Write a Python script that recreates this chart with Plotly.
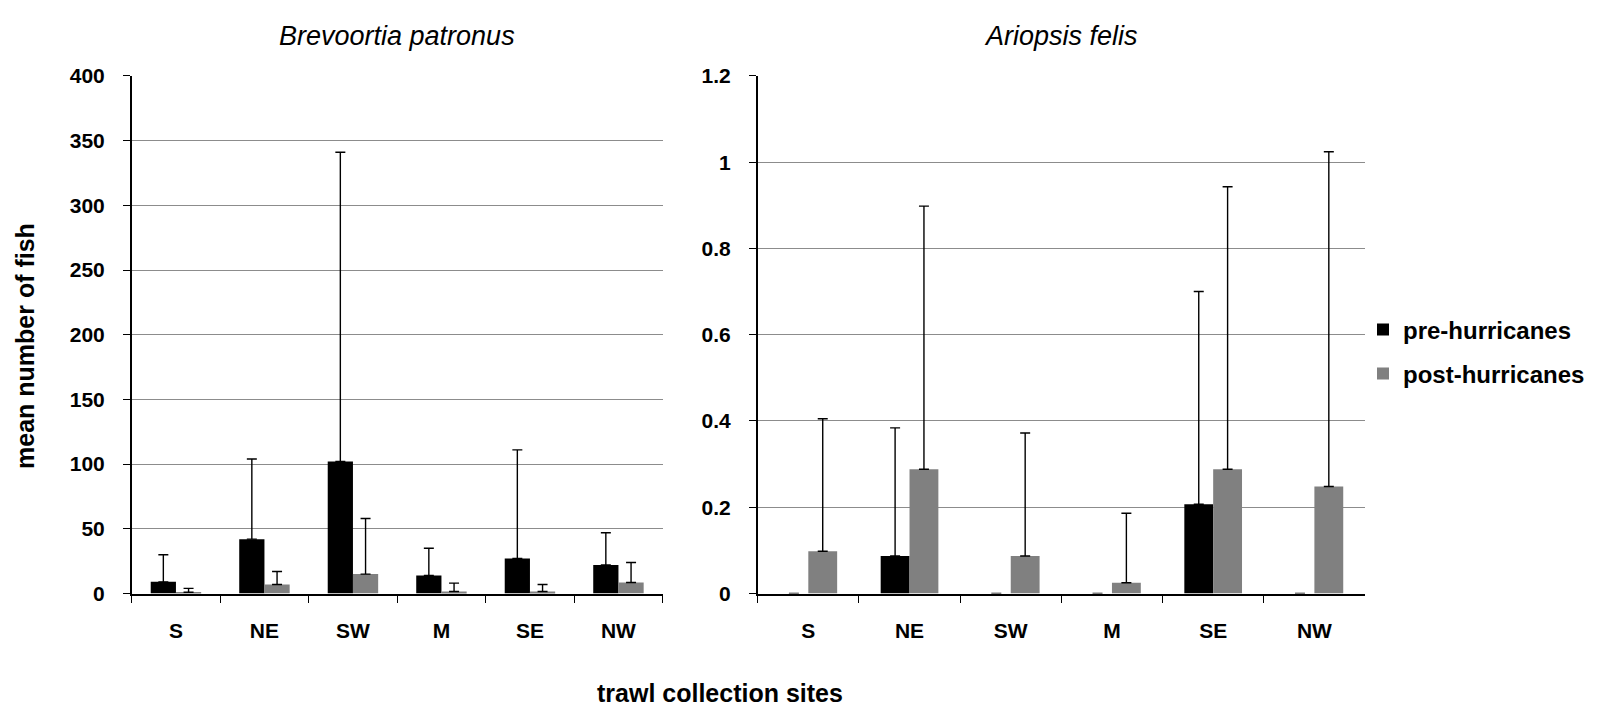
import plotly.graph_objects as go

sites = ["S", "NE", "SW", "M", "SE", "NW"]

# Brevoortia patronus
bp_pre = [9, 42, 102, 14, 27, 22]
bp_pre_top = [30, 104, 341, 35, 111, 47]
bp_post = [1, 7, 15, 1.5, 1.5, 8.5]
bp_post_top = [4, 17, 58, 8, 7, 24]

# Ariopsis felis
af_pre = [0, 0.087, 0, 0, 0.207, 0]
af_pre_top = [0, 0.384, 0, 0, 0.70, 0]
af_post = [0.098, 0.288, 0.087, 0.025, 0.288, 0.248]
af_post_top = [0.405, 0.898, 0.372, 0.186, 0.943, 1.024]

series_names = ["pre-hurricanes", "post-hurricanes"]
colors = ["#000000", "#808080"]

def plus(vals, tops):
    return [t - v if t > v else 0 for v, t in zip(vals, tops)]

fig = go.Figure()

def add(vals, tops, idx, xa, ya, show):
    fig.add_trace(go.Bar(
        x=sites, y=vals, name=series_names[idx], marker_color=colors[idx],
        marker_line_width=0, xaxis=xa, yaxis=ya, showlegend=show,
        legendgroup=series_names[idx],
        error_y=dict(type="data", symmetric=False, array=plus(vals, tops),
                     arrayminus=[0] * len(vals), color="black",
                     thickness=1.4, width=5),
    ))

add(bp_pre, bp_pre_top, 0, "x", "y", True)
add(bp_post, bp_post_top, 1, "x", "y", True)
add(af_pre, af_pre_top, 0, "x2", "y2", False)
add(af_post, af_post_top, 1, "x2", "y2", False)

tickfont = dict(family="Liberation Sans Narrow, Arial Narrow, Liberation Sans, Arial",
                size=21, color="black", weight="bold")
xcommon = dict(type="category", showline=True, linecolor="black", linewidth=1.5,
               ticks="outside", tickson="boundaries", ticklen=8, tickcolor="black",
               tickwidth=1.4, tickfont=tickfont, showgrid=False, ticklabelstandoff=18)
ycommon = dict(showline=True, linecolor="black", linewidth=1.5, ticks="outside",
               ticklen=7, tickcolor="black", tickwidth=1.4, tickfont=tickfont,
               showgrid=True, gridcolor="#8c8c8c", gridwidth=1.2, zeroline=False,
               ticklabelstandoff=14)

H = 720
W = 1606
y0 = 1 - 600.7 / H
y1 = 1 - 66 / H

fig.update_layout(
    width=W, height=H,
    margin=dict(l=0, r=0, t=0, b=0),
    paper_bgcolor="white", plot_bgcolor="white",
    barmode="group", bargap=0.43, bargroupgap=0,
    xaxis=dict(domain=[131.7 / W, 662.7 / W], anchor="y", **xcommon),
    yaxis=dict(domain=[y0, y1], anchor="x", range=[0, 400], dtick=50, **ycommon),
    xaxis2=dict(domain=[757.7 / W, 1365 / W], anchor="y2", **xcommon),
    yaxis2=dict(domain=[y0, y1], anchor="x2", range=[0, 1.2], dtick=0.2, **ycommon),
    legend=dict(x=1363 / W, y=1 - 351 / H, xanchor="left", yanchor="middle",
                font=dict(family="Liberation Sans, Arial", size=24, color="black", weight="bold"),
                tracegroupgap=10, itemwidth=30, bgcolor="rgba(0,0,0,0)"),
    showlegend=True,
)

ann_font_it = dict(family="Liberation Sans, Arial", size=27, color="black", style="italic")
bold_font = dict(family="Liberation Sans, Arial", size=25, color="black", weight="bold")

fig.add_annotation(text="Brevoortia patronus", x=397 / W, y=1 - 25 / H, xref="paper", yref="paper",
                   showarrow=False, font=ann_font_it, xanchor="center", yanchor="middle")
fig.add_annotation(text="Ariopsis felis", x=1061 / W, y=1 - 25 / H, xref="paper", yref="paper",
                   showarrow=False, font=ann_font_it, xanchor="center", yanchor="middle")
fig.add_annotation(text="trawl collection sites", x=720 / W, y=1 - 703 / H, xref="paper", yref="paper",
                   showarrow=False, font=bold_font, xanchor="center", yanchor="middle")
fig.add_annotation(text="mean number of fish", x=25 / W, y=1 - 345 / H, xref="paper", yref="paper",
                   showarrow=False, font=bold_font, xanchor="center", yanchor="middle", textangle=-90)

fig.write_html("out.html")
